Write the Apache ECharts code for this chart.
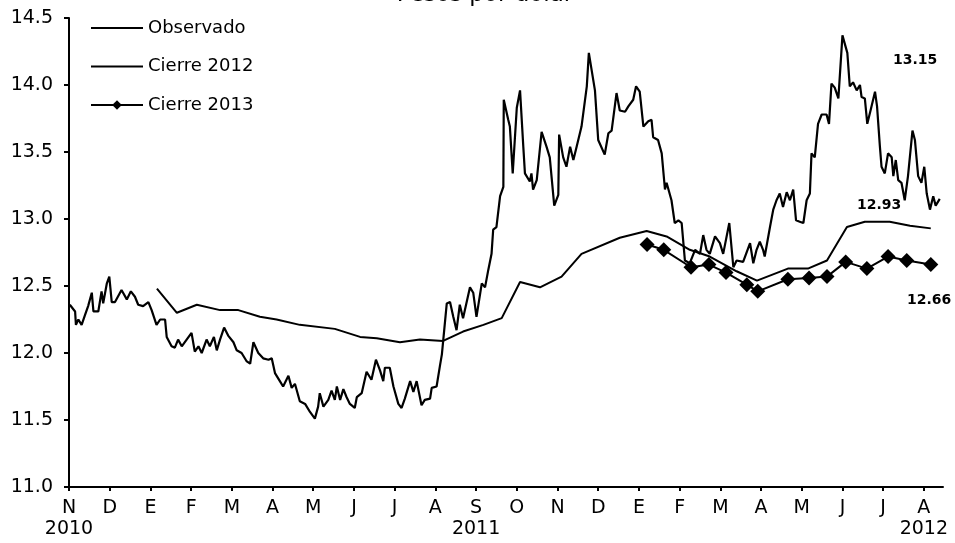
<!DOCTYPE html>
<html>
<head>
<meta charset="utf-8">
<title>Pesos por dólar</title>
<script src="https://cdn.jsdelivr.net/npm/echarts@6/dist/echarts.min.js"></script>
<style>
  html, body { margin: 0; padding: 0; background: #fff; }
  #chart { width: 955px; height: 543px; }
</style>
</head>
<body>
<div id="chart"></div>
<script>
// x = months since 1 Nov 2010
const monthLabels = ['N\n2010', 'D', 'E', 'F', 'M', 'A', 'M', 'J', 'J', 'A',
  'S\n2011', 'O', 'N', 'D', 'E', 'F', 'M', 'A', 'M', 'J', 'J', 'A\n2012']
const yTicks = [11.0, 11.5, 12.0, 12.5, 13.0, 13.5, 14.0, 14.5]

// Observado (tipo de cambio diario)
const obsM = [0.02, 0.15, 0.17, 0.23, 0.31, 0.39, 0.47, 0.56, 0.60, 0.72, 0.80, 0.84, 0.93, 0.99, 1.05, 1.13,
  1.29, 1.42, 1.52, 1.62, 1.70, 1.82, 1.95, 2.03, 2.15, 2.24, 2.36, 2.40, 2.52, 2.60, 2.68, 2.77, 2.89,
  3.01, 3.09, 3.18, 3.26, 3.38, 3.46, 3.56, 3.63, 3.71, 3.81, 3.91, 4.04, 4.12, 4.24, 4.36, 4.45, 4.53,
  4.65, 4.77, 4.90, 4.98, 5.06, 5.18, 5.26, 5.39, 5.47, 5.55, 5.67, 5.80, 5.92, 6.04, 6.12, 6.16, 6.25,
  6.37, 6.45, 6.53, 6.58, 6.66, 6.74, 6.82, 6.90, 7.02, 7.07, 7.19, 7.31, 7.43, 7.54, 7.64, 7.72, 7.76,
  7.88, 7.97, 8.09, 8.17, 8.25, 8.38, 8.46, 8.54, 8.66, 8.74, 8.87, 8.91, 9.03, 9.11, 9.16, 9.28, 9.36,
  9.44, 9.52, 9.60, 9.68, 9.85, 9.93, 10.01, 10.14, 10.22, 10.30, 10.38, 10.42, 10.50, 10.59, 10.67,
  10.68, 10.79, 10.83, 10.90, 11.00, 11.08, 11.16, 11.20, 11.32, 11.36, 11.40, 11.49, 11.61, 11.73,
  11.81, 11.92, 12.02, 12.04, 12.14, 12.22, 12.31, 12.39, 12.47, 12.59, 12.72, 12.77, 12.92, 13.00,
  13.16, 13.25, 13.33, 13.45, 13.53, 13.66, 13.74, 13.86, 13.93, 14.02, 14.11, 14.23, 14.31, 14.35,
  14.47, 14.56, 14.64, 14.68, 14.80, 14.88, 14.97, 15.05, 15.13, 15.25, 15.38, 15.50, 15.58, 15.66,
  15.74, 15.87, 15.99, 16.07, 16.22, 16.32, 16.40, 16.56, 16.73, 16.81, 16.89, 16.97, 17.05, 17.09,
  17.22, 17.30, 17.38, 17.46, 17.54, 17.63, 17.71, 17.79, 17.86, 17.95, 18.04, 18.12, 18.20, 18.24,
  18.32, 18.40, 18.49, 18.61, 18.67, 18.73, 18.81, 18.90, 19.00, 19.12, 19.18, 19.26, 19.35, 19.43,
  19.47, 19.55, 19.61, 19.69, 19.80, 19.85, 19.92, 19.96, 20.04, 20.12, 20.21, 20.25, 20.31, 20.37,
  20.45, 20.53, 20.61, 20.72, 20.78, 20.86, 20.94, 21.01, 21.07, 21.15, 21.23, 21.29, 21.39]
const obsV = [12.36, 12.31, 12.21, 12.25, 12.21, 12.28, 12.35, 12.45, 12.31, 12.31, 12.46, 12.37, 12.52, 12.57, 12.38, 12.38,
  12.47, 12.40, 12.46, 12.42, 12.36, 12.35, 12.38, 12.32, 12.21, 12.25, 12.25, 12.12, 12.05, 12.04, 12.10, 12.05, 12.10,
  12.15, 12.01, 12.05, 12.00, 12.10, 12.05, 12.12, 12.02, 12.10, 12.19, 12.13, 12.08, 12.02, 12.00, 11.94, 11.92, 12.08,
  12.00, 11.96, 11.95, 11.96, 11.85, 11.79, 11.75, 11.83, 11.74, 11.77, 11.64, 11.62, 11.56, 11.51, 11.60, 11.70, 11.60,
  11.65, 11.72, 11.65, 11.75, 11.65, 11.73, 11.67, 11.62, 11.59, 11.67, 11.70, 11.86, 11.80, 11.95, 11.87, 11.79, 11.89,
  11.89, 11.75, 11.62, 11.59, 11.66, 11.79, 11.71, 11.79, 11.61, 11.65, 11.66, 11.74, 11.75, 11.90, 11.99, 12.37, 12.38,
  12.27, 12.17, 12.36, 12.26, 12.49, 12.45, 12.27, 12.52, 12.49, 12.62, 12.74, 12.92, 12.94, 13.17, 13.24,
  13.89, 13.74, 13.69, 13.34, 13.83, 13.96, 13.54, 13.34, 13.28, 13.34, 13.22, 13.29, 13.65, 13.54,
  13.46, 13.10, 13.18, 13.63, 13.46, 13.39, 13.54, 13.44, 13.54, 13.69, 13.99, 14.24, 13.96, 13.59,
  13.48, 13.64, 13.66, 13.94, 13.81, 13.80, 13.84, 13.89, 13.99, 13.95, 13.69, 13.73, 13.74, 13.61,
  13.59, 13.49, 13.22, 13.27, 13.14, 12.97, 12.99, 12.97, 12.69, 12.67, 12.77, 12.74, 12.88, 12.77,
  12.74, 12.87, 12.82, 12.74, 12.97, 12.64, 12.69, 12.68, 12.82, 12.67, 12.77, 12.83, 12.77, 12.72,
  12.94, 13.07, 13.14, 13.19, 13.09, 13.20, 13.14, 13.22, 12.99, 12.98, 12.97, 13.14, 13.19, 13.49,
  13.46, 13.71, 13.78, 13.78, 13.71, 14.01, 13.98, 13.90, 14.37, 14.24, 13.99, 14.02, 13.96, 14.00,
  13.91, 13.90, 13.71, 13.81, 13.95, 13.84, 13.54, 13.39, 13.34, 13.49, 13.46, 13.32, 13.44, 13.29,
  13.27, 13.14, 13.32, 13.66, 13.59, 13.32, 13.27, 13.39, 13.19, 13.07, 13.17, 13.10, 13.15]

// Expectativa de cierre 2012 (encuesta quincenal)
const c12M = [2.16, 2.65, 3.14, 3.71, 4.16, 4.69, 5.10, 5.67, 6.53, 7.15, 7.56, 8.13, 8.62, 9.19, 9.68,
  10.18, 10.63, 11.08, 11.57, 12.10, 12.59, 13.53, 14.19, 14.68, 15.25, 15.74, 16.40, 16.90, 17.66,
  18.15, 18.62, 19.11, 19.55, 20.16, 20.66, 21.17]
const c12V = [12.48, 12.30, 12.36, 12.32, 12.32, 12.27, 12.25, 12.21, 12.18, 12.12, 12.11, 12.08, 12.10, 12.09, 12.16,
  12.21, 12.26, 12.53, 12.49, 12.57, 12.74, 12.86, 12.91, 12.87, 12.77, 12.72, 12.61, 12.54, 12.63,
  12.63, 12.69, 12.94, 12.98, 12.98, 12.95, 12.93]

// Expectativa de cierre 2013
const c13M = [14.20, 14.61, 15.28, 15.72, 16.14, 16.65, 16.92, 17.66, 18.18, 18.62, 19.08, 19.60, 20.12, 20.58, 21.17]
const c13V = [12.81, 12.77, 12.64, 12.66, 12.60, 12.51, 12.46, 12.55, 12.56, 12.57, 12.68, 12.63, 12.72, 12.69, 12.66]

const endLabels = ['13.15', '12.93', '12.66']

const pairs = (xs, ys) => xs.map((x, i) => [x, ys[i]])
const font = 'DejaVu Sans, sans-serif'
const labelFont = 'bold 14px DejaVu Sans, sans-serif'

const chart = echarts.init(document.getElementById('chart'))
chart.setOption({
  animation: false,
  backgroundColor: '#fff',
  grid: {
    left: 69,
    right: 12,
    top: 18,
    bottom: 56,
    containLabel: false
  },
  legend: {
    orient: 'vertical',
    left: 85,
    top: 13,
    itemWidth: 52,
    itemHeight: 12,
    itemGap: 18.5,
    data: [
      { name: 'Observado', itemStyle: { opacity: 0 } },
      { name: 'Cierre 2012', itemStyle: { opacity: 0 } },
      { name: 'Cierre 2013' }
    ],
    textStyle: { fontFamily: font, fontSize: 18, lineHeight: 20, color: '#000' }
  },
  xAxis: {
    type: 'value',
    min: 0,
    max: 21.47,
    interval: 1,
    splitLine: { show: false },
    axisLine: { onZero: false, lineStyle: { color: '#000', width: 2 } },
    axisTick: { show: true, length: 4, lineStyle: { color: '#000', width: 2 } },
    axisLabel: {
      showMaxLabel: false,
      color: '#000',
      fontFamily: font,
      fontSize: 19,
      lineHeight: 21,
      margin: 11,
      formatter: (v) => {
        const i = Math.round(v)
        return Math.abs(v - i) < 1e-6 && monthLabels[i] !== undefined ? monthLabels[i] : ''
      }
    }
  },
  yAxis: {
    type: 'value',
    min: yTicks[0],
    max: yTicks[yTicks.length - 1],
    interval: 0.5,
    splitLine: { show: false },
    axisLine: { show: true, lineStyle: { color: '#000', width: 2 } },
    axisTick: { show: true, length: 5, lineStyle: { color: '#000', width: 2 } },
    axisLabel: {
      color: '#000',
      fontFamily: font,
      fontSize: 19,
      margin: 16,
      formatter: (v) => v.toFixed(1)
    }
  },
  series: [
    {
      name: 'Observado',
      type: 'line',
      symbol: 'none',
      color: '#000',
      lineStyle: { color: '#000', width: 2.2 },
      data: pairs(obsM, obsV)
    },
    {
      name: 'Cierre 2012',
      type: 'line',
      symbol: 'none',
      color: '#000',
      lineStyle: { color: '#000', width: 2 },
      data: pairs(c12M, c12V)
    },
    {
      name: 'Cierre 2013',
      type: 'line',
      symbol: 'diamond',
      symbolSize: 15,
      color: '#000',
      itemStyle: { color: '#000' },
      lineStyle: { color: '#000', width: 2 },
      data: pairs(c13M, c13V)
    }
  ],
  graphic: [
    {
      type: 'text',
      x: 485,
      y: -16,
      style: { text: 'Pesos por dólar', font: '23px DejaVu Sans, sans-serif', fill: '#000', align: 'center' }
    },
    {
      type: 'text', x: 893, y: 53,
      style: { text: endLabels[0], font: labelFont, fill: '#000' }
    },
    {
      type: 'text', x: 857, y: 198,
      style: { text: endLabels[1], font: labelFont, fill: '#000' }
    },
    {
      type: 'text', x: 907, y: 293,
      style: { text: endLabels[2], font: labelFont, fill: '#000' }
    }
  ]
})
</script>
</body>
</html>
